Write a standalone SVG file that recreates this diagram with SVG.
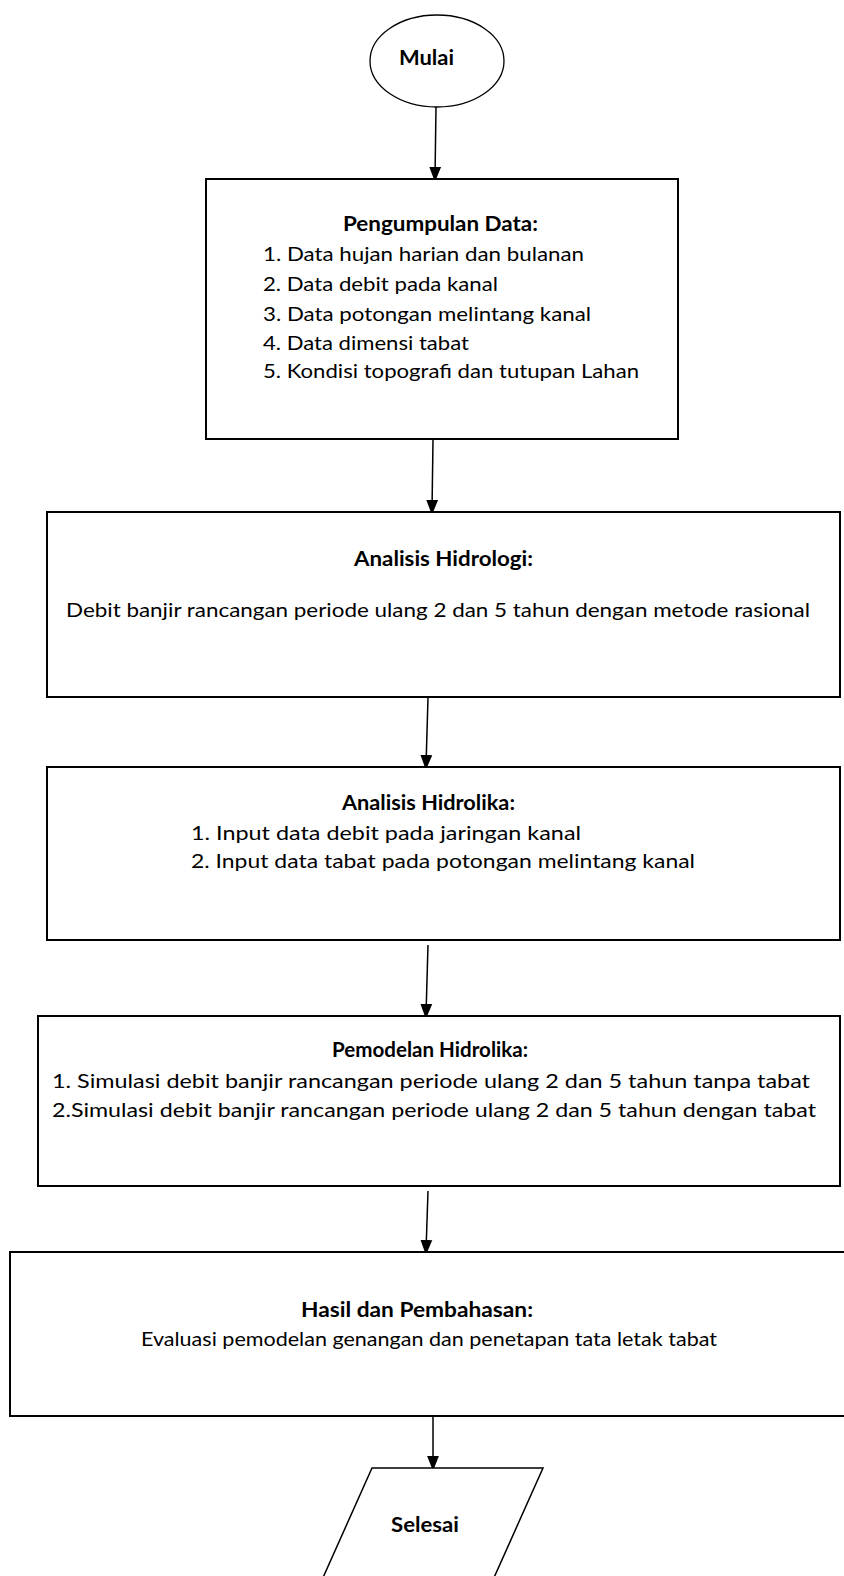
<svg xmlns="http://www.w3.org/2000/svg" width="844" height="1576" viewBox="0 0 844 1576">
<style>
  .box { fill: #fff; stroke: #000; stroke-width: 2; }
  .conn { stroke: #000; stroke-width: 1.5; fill: none; marker-end: url(#arr); }
  text { font-family: Lato, "Open Sans", "Liberation Sans", sans-serif; font-size: 20px; fill: #000; }
  .b { font-weight: bold; }
  .c { text-anchor: middle; }
</style>
<defs>
  <marker id="arr" markerWidth="15" markerHeight="19" refX="14" refY="7.5" orient="auto" markerUnits="userSpaceOnUse" viewBox="0 0 19 15">
    <path d="M0,0 L19,7.5 L0,15 Z" fill="#000"/>
  </marker>
</defs>
<rect width="844" height="1576" fill="#fff"/>

<g id="connectors">
  <line class="conn" x1="436" y1="107" x2="435" y2="178"/>
  <line class="conn" x1="433" y1="440" x2="432" y2="511"/>
  <line class="conn" x1="428" y1="698" x2="426" y2="766"/>
  <line class="conn" x1="428" y1="945" x2="426" y2="1015"/>
  <line class="conn" x1="428" y1="1191" x2="426" y2="1251"/>
  <line class="conn" x1="433" y1="1417" x2="433" y2="1467"/>
</g>

<g id="mulai">
  <ellipse cx="437" cy="61" rx="67" ry="46" fill="#fff" stroke="#000" stroke-width="1.3"/>
  <text class="b" x="399" y="65" textLength="55" lengthAdjust="spacingAndGlyphs">Mulai</text>
</g>

<g id="pengumpulan">
  <rect class="box" x="206" y="179" width="472" height="260"/>
  <text class="b" x="343" y="231" textLength="195" lengthAdjust="spacingAndGlyphs">Pengumpulan Data:</text>
  <text x="263" y="261" textLength="321" lengthAdjust="spacingAndGlyphs">1. Data hujan harian dan bulanan</text>
  <text x="263" y="291" textLength="235" lengthAdjust="spacingAndGlyphs">2. Data debit pada kanal</text>
  <text x="263" y="321" textLength="328" lengthAdjust="spacingAndGlyphs">3. Data potongan melintang kanal</text>
  <text x="263" y="350" textLength="206" lengthAdjust="spacingAndGlyphs">4. Data dimensi tabat</text>
  <text x="263" y="378" textLength="376" lengthAdjust="spacingAndGlyphs">5. Kondisi topografi dan tutupan Lahan</text>
</g>

<g id="hidrologi">
  <rect class="box" x="47" y="512" width="793" height="185"/>
  <text class="b" x="354" y="566" textLength="179" lengthAdjust="spacingAndGlyphs">Analisis Hidrologi:</text>
  <text x="66" y="617" textLength="744" lengthAdjust="spacingAndGlyphs">Debit banjir rancangan periode ulang 2 dan 5 tahun dengan metode rasional</text>
</g>

<g id="hidrolika">
  <rect class="box" x="47" y="767" width="793" height="173"/>
  <text class="b" x="342" y="810" textLength="173" lengthAdjust="spacingAndGlyphs">Analisis Hidrolika:</text>
  <text x="191" y="840" textLength="390" lengthAdjust="spacingAndGlyphs">1. Input data debit pada jaringan kanal</text>
  <text x="191" y="868" textLength="504" lengthAdjust="spacingAndGlyphs">2. Input data tabat pada potongan melintang kanal</text>
</g>

<g id="pemodelan">
  <rect class="box" x="38" y="1016" width="802" height="170"/>
  <text class="b" x="332" y="1057" textLength="196" lengthAdjust="spacingAndGlyphs">Pemodelan Hidrolika:</text>
  <text x="52" y="1088" textLength="758" lengthAdjust="spacingAndGlyphs">1. Simulasi debit banjir rancangan periode ulang 2 dan 5 tahun tanpa tabat</text>
  <text x="52" y="1117" textLength="764" lengthAdjust="spacingAndGlyphs">2.Simulasi debit banjir rancangan periode ulang 2 dan 5 tahun dengan tabat</text>
</g>

<g id="hasil">
  <rect class="box" x="10" y="1252" width="840" height="164"/>
  <text class="b" x="301" y="1317" textLength="232" lengthAdjust="spacingAndGlyphs">Hasil dan Pembahasan:</text>
  <text x="141" y="1346" textLength="576" lengthAdjust="spacingAndGlyphs">Evaluasi pemodelan genangan dan penetapan tata letak tabat</text>
</g>

<g id="selesai">
  <polygon points="372,1468 543,1468 484,1600 313,1600" fill="#fff" stroke="#000" stroke-width="1.5"/>
  <text class="b" x="391" y="1532" textLength="68" lengthAdjust="spacingAndGlyphs">Selesai</text>
</g>
</svg>
